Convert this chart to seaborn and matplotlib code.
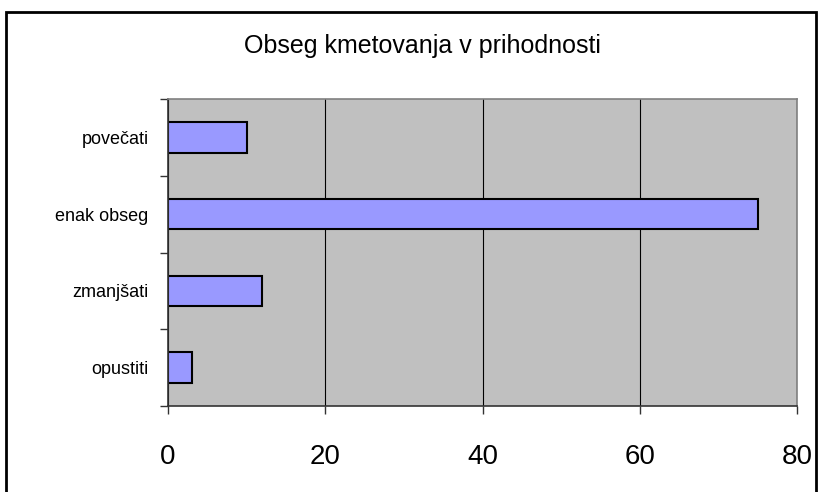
import matplotlib
matplotlib.use("Agg")
import matplotlib.pyplot as plt
import numpy as np
import pandas as pd
import seaborn as sns
from matplotlib.patches import Rectangle

categories = ["povečati", "enak obseg", "zmanjšati", "opustiti"]
values = [10, 75, 12, 3]
x_ticks = [0, 20, 40, 60, 80]
title = "Obseg kmetovanja v prihodnosti"

df = pd.DataFrame({"odgovor": categories, "delez": values})

sns.set_style("white")
plt.rcParams["font.family"] = ["Liberation Sans", "DejaVu Sans"]
plt.rcParams["text.color"] = "black"
plt.rcParams["xtick.color"] = "black"
plt.rcParams["ytick.color"] = "black"

fig = plt.figure(figsize=(8.22, 4.92), dpi=100)
ax = fig.add_axes([168 / 822, 1 - 406 / 492, 629 / 822, 307 / 492])

sns.barplot(data=df, y="odgovor", x="delez", order=categories, orient="h",
            color="#9999FF", saturation=1, width=0.4, edgecolor="black",
            linewidth=1.5, ax=ax)

ax.set_facecolor("#C0C0C0")
ax.set_xlim(0, 80)
ax.set_ylim(len(categories) - 0.5, -0.5)
ax.set_xticks(x_ticks)
ax.set_xticklabels([str(t) for t in x_ticks], fontsize=20)
ax.xaxis.grid(True, color="black", linewidth=0.8)
ax.set_axisbelow(True)

# y ticks at category boundaries, labels centred
ax.set_yticks(np.arange(len(categories)))
ax.set_yticklabels(categories, fontsize=13)
ax.set_yticks(np.arange(len(categories) + 1) - 0.5, minor=True)
ax.tick_params(axis="y", which="major", length=0, pad=14)
ax.tick_params(axis="y", which="minor", length=6, width=1, color="#333333", left=True)
ax.tick_params(axis="x", which="major", length=6, width=1, color="#333333", bottom=True, pad=21)
ax.set_xlabel("")
ax.set_ylabel("")

for side in ["left", "bottom"]:
    ax.spines[side].set_color("#333333")
    ax.spines[side].set_linewidth(1.2)
for side in ["top", "right"]:
    ax.spines[side].set_color("#808080")
    ax.spines[side].set_linewidth(1.2)

fig.text(422 / 822, 1 - 46 / 492, title, ha="center", va="center", fontsize=18)

# outer chart border
fig.patches.append(Rectangle((6 / 822, -0.02), 810 / 822, 1 - 12 / 492 + 0.02,
                             transform=fig.transFigure, fill=False,
                             edgecolor="black", linewidth=2))

fig.savefig("out.png", dpi=100)
